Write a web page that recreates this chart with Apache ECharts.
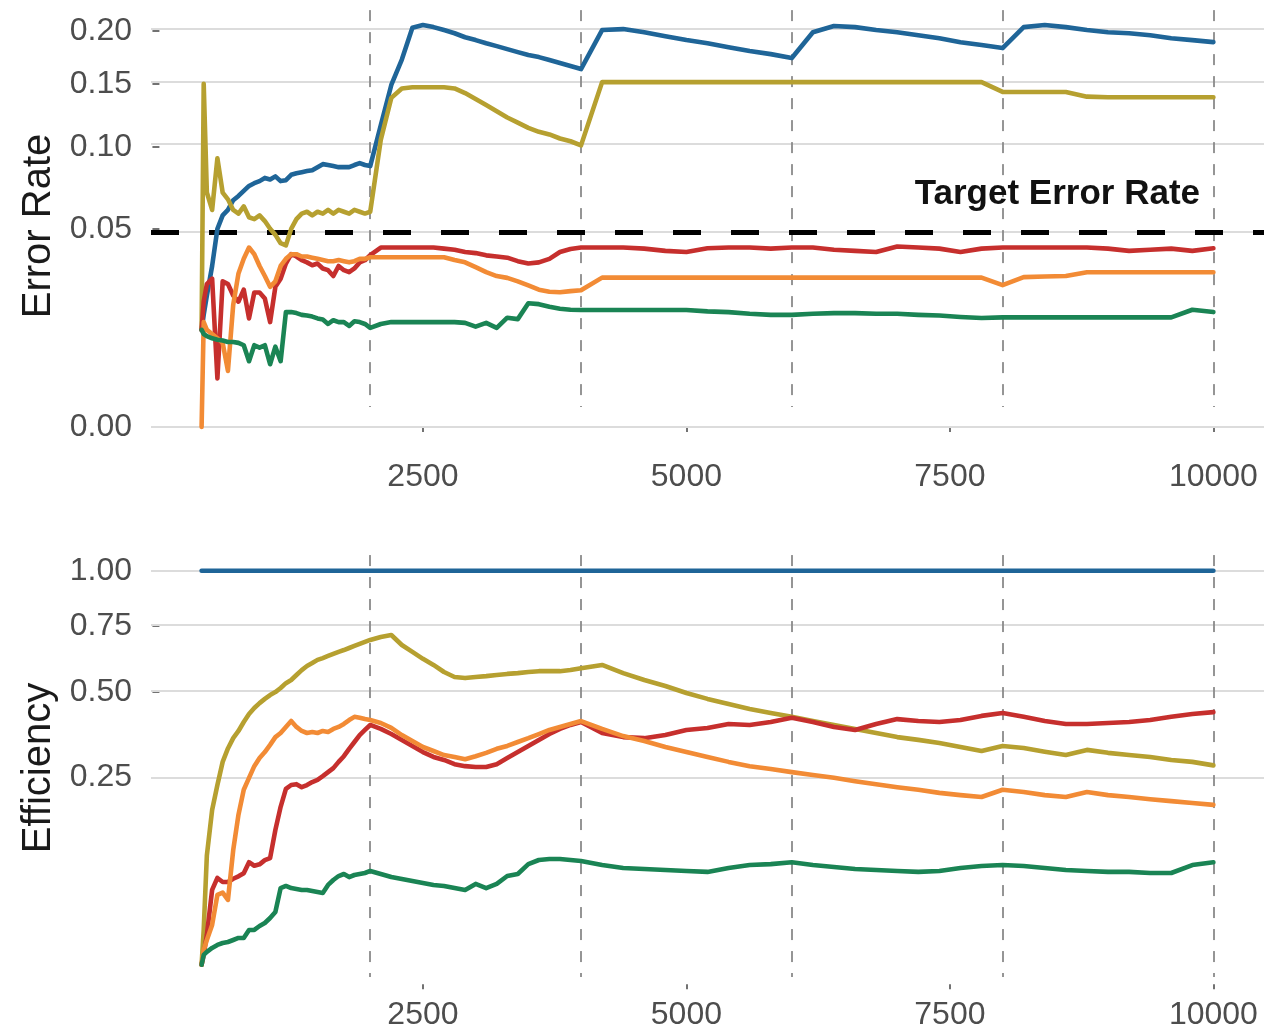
<!DOCTYPE html>
<html><head><meta charset="utf-8">
<script src="https://cdn.jsdelivr.net/npm/echarts@6/dist/echarts.min.js"></script>
<style>html,body{margin:0;padding:0;background:#fff}#c{width:1281px;height:1035px}</style>
</head><body><div id="c"></div><script>
// ---- data ----
const X = [400,420,450,500,550,600,650,700,750,800,850,900,950,1000,1050,1100,1150,1200,1250,1300,1350,1400,1450,1500,1550,1600,1650,1700,1750,1800,1850,1900,1950,2000,
  2100,2200,2300,2400,2500,2600,2700,2800,2900,3000,3100,3200,3300,3400,3500,3600,3700,3800,3900,4000,
  4200,4400,4600,4800,5000,5200,5400,5600,5800,6000,6200,6400,6600,6800,7000,7200,7400,7600,7800,8000,8200,8400,8600,8800,9000,9200,9400,9600,9800,10000];

const errBlue = [0.012,0.016,0.022,0.033,0.050,0.057,0.060,0.0655,0.068,0.071,0.074,0.0757,0.077,0.079,0.078,0.080,0.077,0.0776,0.081,0.082,0.0827,0.0834,0.084,0.086,0.088,0.0874,0.0867,0.086,0.086,0.086,0.0874,0.0887,0.0874,0.0867,
  0.116,0.149,0.172,0.203,0.2058,0.2037,0.2007,0.1975,0.1935,0.1907,0.1876,0.1848,0.1819,0.179,0.1762,0.1743,0.1715,0.1687,0.166,0.1632,
  0.2007,0.2017,0.1985,0.1946,0.1907,0.1876,0.1838,0.18,0.1771,0.1734,0.1985,0.2048,0.2037,0.2007,0.1985,0.1955,0.1925,0.1886,0.1858,0.1829,0.2037,0.2058,0.2037,0.2007,0.1985,0.1975,0.1955,0.1925,0.1907,0.1887];
const errOlive = [0.012,0.150,0.070,0.060,0.092,0.070,0.066,0.060,0.058,0.062,0.056,0.055,0.057,0.054,0.050,0.047,0.043,0.042,0.050,0.055,0.058,0.059,0.057,0.059,0.058,0.060,0.058,0.060,0.059,0.058,0.060,0.059,0.058,0.059,
  0.105,0.138,0.146,0.147,0.147,0.147,0.147,0.146,0.142,0.137,0.132,0.127,0.122,0.118,0.114,0.111,0.109,0.106,0.104,0.101,
  0.1515,0.1515,0.1515,0.1515,0.1515,0.1515,0.1515,0.1515,0.1515,0.1515,0.1515,0.1515,0.1515,0.1515,0.1515,0.1515,0.1515,0.1515,0.1515,0.143,0.143,0.143,0.143,0.139,0.1385,0.1385,0.1385,0.1385,0.1385,0.1385];
const errRed = [0.012,0.020,0.026,0.028,0.003,0.027,0.026,0.022,0.020,0.024,0.015,0.023,0.023,0.021,0.014,0.025,0.028,0.034,0.038,0.037,0.0354,0.0345,0.0333,0.034,0.032,0.0313,0.029,0.033,0.0313,0.0305,0.032,0.0345,0.0354,0.0376,
  0.041,0.041,0.041,0.041,0.041,0.041,0.0405,0.040,0.039,0.0385,0.0375,0.037,0.0365,0.035,0.034,0.0345,0.036,0.039,0.0403,0.041,
  0.041,0.041,0.0405,0.0395,0.039,0.0407,0.041,0.041,0.0405,0.041,0.041,0.040,0.0395,0.039,0.0415,0.041,0.0405,0.039,0.0405,0.041,0.041,0.041,0.041,0.041,0.0405,0.0395,0.040,0.0405,0.0395,0.0407];
const errOrange = [0.0,0.014,0.012,0.011,0.010,0.009,0.004,0.019,0.030,0.036,0.041,0.038,0.033,0.029,0.025,0.027,0.033,0.036,0.038,0.038,0.037,0.037,0.0365,0.036,0.0355,0.035,0.035,0.0355,0.035,0.0345,0.035,0.036,0.036,0.0367,
  0.0367,0.0367,0.0367,0.0367,0.0367,0.0367,0.0367,0.0355,0.0345,0.0325,0.0305,0.029,0.0283,0.027,0.0255,0.024,0.0233,0.0231,0.0235,0.0238,
  0.0284,0.0284,0.0284,0.0284,0.0284,0.0284,0.0284,0.0284,0.0284,0.0284,0.0284,0.0284,0.0284,0.0284,0.0284,0.0284,0.0284,0.0284,0.0284,0.0256,0.0286,0.0288,0.029,0.0305,0.0305,0.0305,0.0305,0.0305,0.0305,0.0305];
const errGreen = [0.012,0.011,0.0105,0.010,0.0097,0.0095,0.0092,0.0092,0.009,0.0085,0.0055,0.0085,0.008,0.0085,0.005,0.0082,0.0055,0.0168,0.0168,0.0165,0.016,0.0158,0.0155,0.015,0.0147,0.0135,0.0145,0.014,0.014,0.013,0.0142,0.014,0.0135,0.0125,
  0.0135,0.014,0.014,0.014,0.014,0.014,0.014,0.014,0.0138,0.0128,0.0138,0.0125,0.0152,0.0148,0.0195,0.0192,0.0184,0.0178,0.0175,0.0174,
  0.0174,0.0174,0.0174,0.0174,0.0174,0.017,0.0168,0.0163,0.016,0.016,0.0163,0.0165,0.0165,0.0163,0.0163,0.016,0.0158,0.0154,0.0151,0.0153,0.0153,0.0153,0.0153,0.0153,0.0153,0.0153,0.0153,0.0153,0.0175,0.0168];

const effBlue = [1,1,1,1,1,1,1,1,1,1,1,1,1,1,1,1,1,1,1,1,1,1,1,1,1,1,1,1,1,1,1,1,1,1,
  1,1,1,1,1,1,1,1,1,1,1,1,1,1,1,1,1,1,1,1,
  1,1,1,1,1,1,1,1,1,1,1,1,1,1,1,1,1,1,1,1,1,1,1,1,1,1,1,1,1,1];
const effOlive = [0.0022,0.0172,0.097,0.1775,0.232,0.289,0.325,0.354,0.375,0.402,0.427,0.446,0.462,0.476,0.489,0.499,0.513,0.530,0.541,0.559,0.577,0.592,0.603,0.615,0.622,0.630,0.638,0.646,0.653,0.661,0.669,0.677,0.685,0.693,
  0.705,0.713,0.673,0.646,0.619,0.596,0.570,0.552,0.548,0.552,0.555,0.559,0.563,0.566,0.570,0.573,0.573,0.573,0.577,0.584,
  0.596,0.566,0.541,0.520,0.496,0.476,0.459,0.443,0.430,0.418,0.405,0.393,0.381,0.369,0.357,0.349,0.340,0.329,0.318,0.332,0.326,0.316,0.307,0.321,0.313,0.307,0.302,0.294,0.289,0.280];
const effRed = [0.0022,0.005,0.0142,0.052,0.066,0.061,0.061,0.065,0.068,0.072,0.087,0.082,0.084,0.090,0.093,0.139,0.184,0.223,0.232,0.234,0.227,0.232,0.239,0.244,0.253,0.263,0.273,0.289,0.304,0.324,0.343,0.363,0.378,0.393,
  0.381,0.366,0.349,0.332,0.315,0.302,0.294,0.283,0.278,0.276,0.276,0.283,0.299,0.315,0.332,0.349,0.366,0.381,0.393,0.402,
  0.369,0.357,0.354,0.363,0.378,0.384,0.396,0.393,0.402,0.415,0.402,0.387,0.378,0.396,0.411,0.405,0.402,0.408,0.421,0.430,0.418,0.405,0.396,0.396,0.399,0.402,0.408,0.418,0.427,0.433];
const effOrange = [0.0022,0.0068,0.0114,0.0205,0.0466,0.049,0.0415,0.105,0.168,0.221,0.249,0.278,0.299,0.315,0.335,0.357,0.369,0.387,0.405,0.387,0.375,0.369,0.372,0.369,0.375,0.372,0.381,0.387,0.396,0.408,0.418,0.415,0.411,0.408,
  0.399,0.384,0.363,0.346,0.329,0.318,0.307,0.302,0.296,0.304,0.313,0.324,0.332,0.343,0.354,0.366,0.378,0.387,0.396,0.405,
  0.381,0.360,0.346,0.329,0.315,0.302,0.289,0.278,0.271,0.263,0.256,0.249,0.241,0.234,0.227,0.221,0.214,0.209,0.205,0.221,0.216,0.209,0.205,0.216,0.209,0.205,0.200,0.196,0.192,0.188];
const effGreen = [0.0022,0.005,0.0061,0.0077,0.009,0.0099,0.0104,0.0114,0.0125,0.0125,0.0172,0.0172,0.0198,0.0219,0.0256,0.0305,0.054,0.0564,0.054,0.053,0.0519,0.0519,0.0508,0.0497,0.0487,0.0576,0.0635,0.0684,0.071,0.0671,0.0697,0.071,0.0723,0.075,
  0.071,0.0671,0.0647,0.0623,0.060,0.0576,0.0564,0.054,0.0519,0.0588,0.054,0.0588,0.0684,0.071,0.0843,0.0902,0.0917,0.0917,0.0902,0.0888,
  0.083,0.079,0.0776,0.0763,0.075,0.0737,0.079,0.083,0.0843,0.087,0.083,0.0803,0.0776,0.0763,0.075,0.0737,0.075,0.079,0.0817,0.083,0.0817,0.079,0.0763,0.075,0.0737,0.0737,0.0723,0.0723,0.083,0.087];

const xTicks = [2500, 5000, 7500, 10000];
const errTicks = [0, 0.05, 0.10, 0.15, 0.20];
const effTicks = [0.25, 0.50, 0.75, 1.00];
const vLines = [2000, 4000, 6000, 8000, 10000];
const targetRate = 0.05;

// ---- layout / style ----
const FONT = '"Liberation Sans", Arial, Helvetica, sans-serif';
const COLORS = {blue:'#1f6598', olive:'#b6a030', red:'#c62f2d', orange:'#f28b35', green:'#1a8454'};
const sq = Math.sqrt;
const X_MIN = -80, X_MAX = 10480;
const ERR_MIN = -0.0227, ERR_MAX = 0.4763;   // in sqrt space
const EFF_MIN = -0.002, EFF_MAX = 1.0476;    // in sqrt space
const VL_ERR = [0.2214, 0.0005], VL_EFF = [1.077, 0.0003];

function mk(vals){ return X.map((x,i)=>[x, sq(vals[i])]); }

function xAxis(gi){
  return {type:'value', gridIndex:gi, min:X_MIN, max:X_MAX,
    axisLine:{show:false}, splitLine:{show:false},
    axisTick:{show:true, customValues:xTicks, length:5, lineStyle:{color:'#444', width:1.5}},
    axisLabel:{customValues:xTicks, formatter:v=>String(Math.round(v)), margin:14, fontSize:32, fontFamily:FONT, color:'#4d4d4d'}};
}
function yAxis(gi, ticks, mn, mx, name){
  const tv = ticks.map(sq);
  return {type:'value', gridIndex:gi, min:mn, max:mx, name:name, nameLocation:'middle', nameGap:90, nameRotate:90,
    nameTextStyle:{fontSize:40, fontFamily:FONT, color:'#1a1a1a'},
    axisLine:{show:false}, splitLine:{show:false},
    axisTick:{show:true, customValues:tv, length:7, lineStyle:{color:'#444', width:1.5}},
    axisLabel:{customValues:tv, formatter:v=>(v*v).toFixed(2), margin:19, fontSize:32, fontFamily:FONT, color:'#4d4d4d'}};
}
function markSeries(gi, z, lineStyle, data){
  return {type:'line', xAxisIndex:gi, yAxisIndex:gi, data:[], z:z, silent:true,
    markLine:{z:z, silent:true, animation:false, symbol:['none','none'], label:{show:false},
      lineStyle:lineStyle, emphasis:{disabled:true}, data:data}};
}
function lineSeries(gi, vals, color){
  return {type:'line', xAxisIndex:gi, yAxisIndex:gi, data:mk(vals), showSymbol:false, symbol:'none', z:10,
    lineStyle:{color:color, width:4.6, join:'round', cap:'round'}, itemStyle:{color:color}, emphasis:{disabled:true}, animation:false};
}
const gridStyle = {color:'#dcdcdc', width:2, type:'solid'};
const vStyle = {color:'#8a8a8a', width:1.8, type:[11,11]};

const chart = echarts.init(document.getElementById('c'), null, {renderer:'canvas'});
chart.setOption({
  backgroundColor:'#ffffff',
  animation:false,
  grid:[
    {left:151, right:17, top:5, height:442, containLabel:false, outerBoundsMode:'none'},
    {left:151, right:17, top:551, height:434, containLabel:false, outerBoundsMode:'none'}
  ],
  xAxis:[xAxis(0), xAxis(1)],
  yAxis:[yAxis(0, errTicks, ERR_MIN, ERR_MAX, 'Error Rate'), yAxis(1, effTicks, EFF_MIN, EFF_MAX, 'Efficiency')],
  series:[
    markSeries(0, 1, gridStyle, errTicks.map(v=>({yAxis:sq(v)}))),
    markSeries(1, 1, gridStyle, effTicks.map(v=>({yAxis:sq(v)}))),
    markSeries(0, 2, vStyle, vLines.map(v=>[{coord:[v, sq(VL_ERR[0])]},{coord:[v, sq(VL_ERR[1])]}])),
    markSeries(1, 2, vStyle, vLines.map(v=>[{coord:[v, sq(VL_EFF[0])]},{coord:[v, sq(VL_EFF[1])]}])),
    markSeries(0, 3, {color:'#000', width:5, type:[28,30]}, [{yAxis:sq(targetRate)}]),
    lineSeries(0, errBlue, COLORS.blue), lineSeries(0, errOlive, COLORS.olive), lineSeries(0, errRed, COLORS.red),
    lineSeries(0, errOrange, COLORS.orange), lineSeries(0, errGreen, COLORS.green),
    lineSeries(1, effBlue, COLORS.blue), lineSeries(1, effOlive, COLORS.olive), lineSeries(1, effRed, COLORS.red),
    lineSeries(1, effOrange, COLORS.orange), lineSeries(1, effGreen, COLORS.green)
  ],
  graphic:[{type:'text', x:1200, y:194, z:20, silent:true,
    style:{text:'Target Error Rate', font:'bold 35px ' + FONT, fill:'#111', align:'right', verticalAlign:'middle', textAlign:'right', textVerticalAlign:'middle'}}]
});
</script></body></html>
